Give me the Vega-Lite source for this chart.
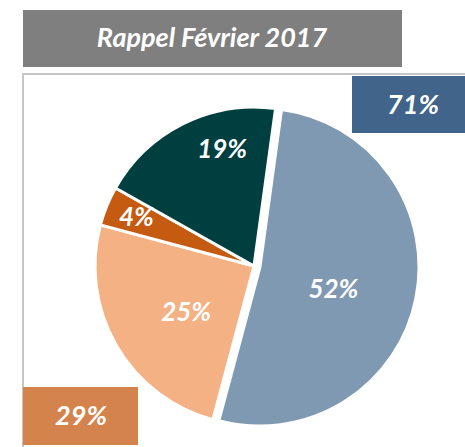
{
  "$schema": "https://vega.github.io/schema/vega-lite/v6.json",
  "width": 465,
  "height": 447,
  "autosize": "none",
  "padding": 0,
  "background": "white",
  "view": {"stroke": null},
  "config": {"text": {"font": "Lato", "fontWeight": "bold", "fontStyle": "italic", "fill": "white", "align": "center", "baseline": "middle"}},
  "datasets": {
    "segments": [
      {"segment": "52%", "ordre": 1, "valeur": 52},
      {"segment": "25%", "ordre": 2, "valeur": 25},
      {"segment": "4%", "ordre": 3, "valeur": 4},
      {"segment": "19%", "ordre": 4, "valeur": 19}
    ],
    "totaux": [
      {"groupe": "71%", "total": 71},
      {"groupe": "29%", "total": 29}
    ],
    "titre": [{"titre": "Rappel Février 2017"}]
  },
  "layer": [
    {
      "data": {"name": "titre"},
      "mark": {"type": "rect", "fill": "#c3c3c3", "fillOpacity": 0, "stroke": "#c6c6c6", "strokeWidth": 2},
      "encoding": {
        "x": {"datum": 23, "type": "quantitative", "scale": {"domain": [0, 465], "nice": false, "zero": false}, "axis": null},
        "x2": {"datum": 480},
        "y": {"datum": 74, "type": "quantitative", "scale": {"domain": [0, 447], "reverse": true, "nice": false, "zero": false}, "axis": null},
        "y2": {"datum": 470}
      }
    },
    {
      "data": {"name": "segments"},
      "mark": {"type": "arc", "radius": 159, "stroke": "white", "strokeWidth": 3},
      "encoding": {
        "x": {"datum": 254, "type": "quantitative"},
        "y": {"datum": 266, "type": "quantitative"},
        "theta": {"field": "valeur", "type": "quantitative", "stack": true, "scale": {"range": [0.1361, 6.4193]}},
        "order": {"field": "ordre"},
        "color": {"field": "segment", "type": "nominal", "scale": {"domain": ["52%", "25%", "4%", "19%"], "range": ["#7F99B2", "#F4B183", "#C55A11", "#003F3F"]}, "legend": null},
        "opacity": {"condition": {"test": "datum.segment === '52%'", "value": 0}, "value": 1}
      }
    },
    {
      "data": {"name": "segments"},
      "mark": {"type": "arc", "radius": 159, "stroke": "white", "strokeWidth": 3, "xOffset": 6, "yOffset": 1},
      "encoding": {
        "x": {"datum": 254, "type": "quantitative"},
        "y": {"datum": 266, "type": "quantitative"},
        "theta": {"field": "valeur", "type": "quantitative", "stack": true},
        "order": {"field": "ordre"},
        "color": {"field": "segment", "type": "nominal", "legend": null},
        "opacity": {"condition": {"test": "datum.segment === '52%'", "value": 1}, "value": 0}
      }
    },
    {
      "data": {"name": "segments"},
      "mark": {"type": "text", "radius": 81, "dy": 8, "fontSize": 26},
      "encoding": {
        "x": {"datum": 254, "type": "quantitative"},
        "y": {"datum": 266, "type": "quantitative"},
        "theta": {"field": "valeur", "type": "quantitative", "stack": true},
        "order": {"field": "ordre"},
        "text": {"condition": {"test": "datum.segment === '52%'", "field": "segment"}, "value": ""}
      }
    },
    {
      "data": {"name": "segments"},
      "mark": {"type": "text", "radius": 83, "dx": 4, "dy": 5, "fontSize": 26},
      "encoding": {
        "x": {"datum": 254, "type": "quantitative"},
        "y": {"datum": 266, "type": "quantitative"},
        "theta": {"field": "valeur", "type": "quantitative", "stack": true},
        "order": {"field": "ordre"},
        "text": {"condition": {"test": "datum.segment === '25%'", "field": "segment"}, "value": ""}
      }
    },
    {
      "data": {"name": "segments"},
      "mark": {"type": "text", "radius": 127, "fontSize": 26},
      "encoding": {
        "x": {"datum": 254, "type": "quantitative"},
        "y": {"datum": 266, "type": "quantitative"},
        "theta": {"field": "valeur", "type": "quantitative", "stack": true},
        "order": {"field": "ordre"},
        "text": {"condition": {"test": "datum.segment === '4%'", "field": "segment"}, "value": ""}
      }
    },
    {
      "data": {"name": "segments"},
      "mark": {"type": "text", "radius": 121, "dx": 22, "dy": -8, "fontSize": 26},
      "encoding": {
        "x": {"datum": 254, "type": "quantitative"},
        "y": {"datum": 266, "type": "quantitative"},
        "theta": {"field": "valeur", "type": "quantitative", "stack": true},
        "order": {"field": "ordre"},
        "text": {"condition": {"test": "datum.segment === '19%'", "field": "segment"}, "value": ""}
      }
    },
    {
      "data": {"name": "totaux"},
      "transform": [{"filter": "datum.groupe === '71%'"}],
      "layer": [
        {
          "mark": {"type": "rect", "fill": "#41658A"},
          "encoding": {
            "x": {"datum": 352, "type": "quantitative"},
            "x2": {"datum": 470},
            "y": {"datum": 76, "type": "quantitative"},
            "y2": {"datum": 133}
          }
        },
        {
          "mark": {"type": "text", "fontSize": 27},
          "encoding": {
            "x": {"datum": 413, "type": "quantitative"},
            "y": {"datum": 106, "type": "quantitative"},
            "text": {"field": "groupe"}
          }
        }
      ]
    },
    {
      "data": {"name": "totaux"},
      "transform": [{"filter": "datum.groupe === '29%'"}],
      "layer": [
        {
          "mark": {"type": "rect", "fill": "#D5834C"},
          "encoding": {
            "x": {"datum": 23, "type": "quantitative"},
            "x2": {"datum": 138},
            "y": {"datum": 387, "type": "quantitative"},
            "y2": {"datum": 445}
          }
        },
        {
          "mark": {"type": "text", "fontSize": 27},
          "encoding": {
            "x": {"datum": 81, "type": "quantitative"},
            "y": {"datum": 417, "type": "quantitative"},
            "text": {"field": "groupe"}
          }
        }
      ]
    },
    {
      "data": {"name": "titre"},
      "layer": [
        {
          "mark": {"type": "rect", "fill": "#7F7F7F"},
          "encoding": {
            "x": {"datum": 23, "type": "quantitative"},
            "x2": {"datum": 402},
            "y": {"datum": 10, "type": "quantitative"},
            "y2": {"datum": 67}
          }
        },
        {
          "mark": {"type": "text", "fontSize": 27},
          "encoding": {
            "x": {"datum": 212, "type": "quantitative"},
            "y": {"datum": 39, "type": "quantitative"},
            "text": {"field": "titre"}
          }
        }
      ]
    }
  ]
}
